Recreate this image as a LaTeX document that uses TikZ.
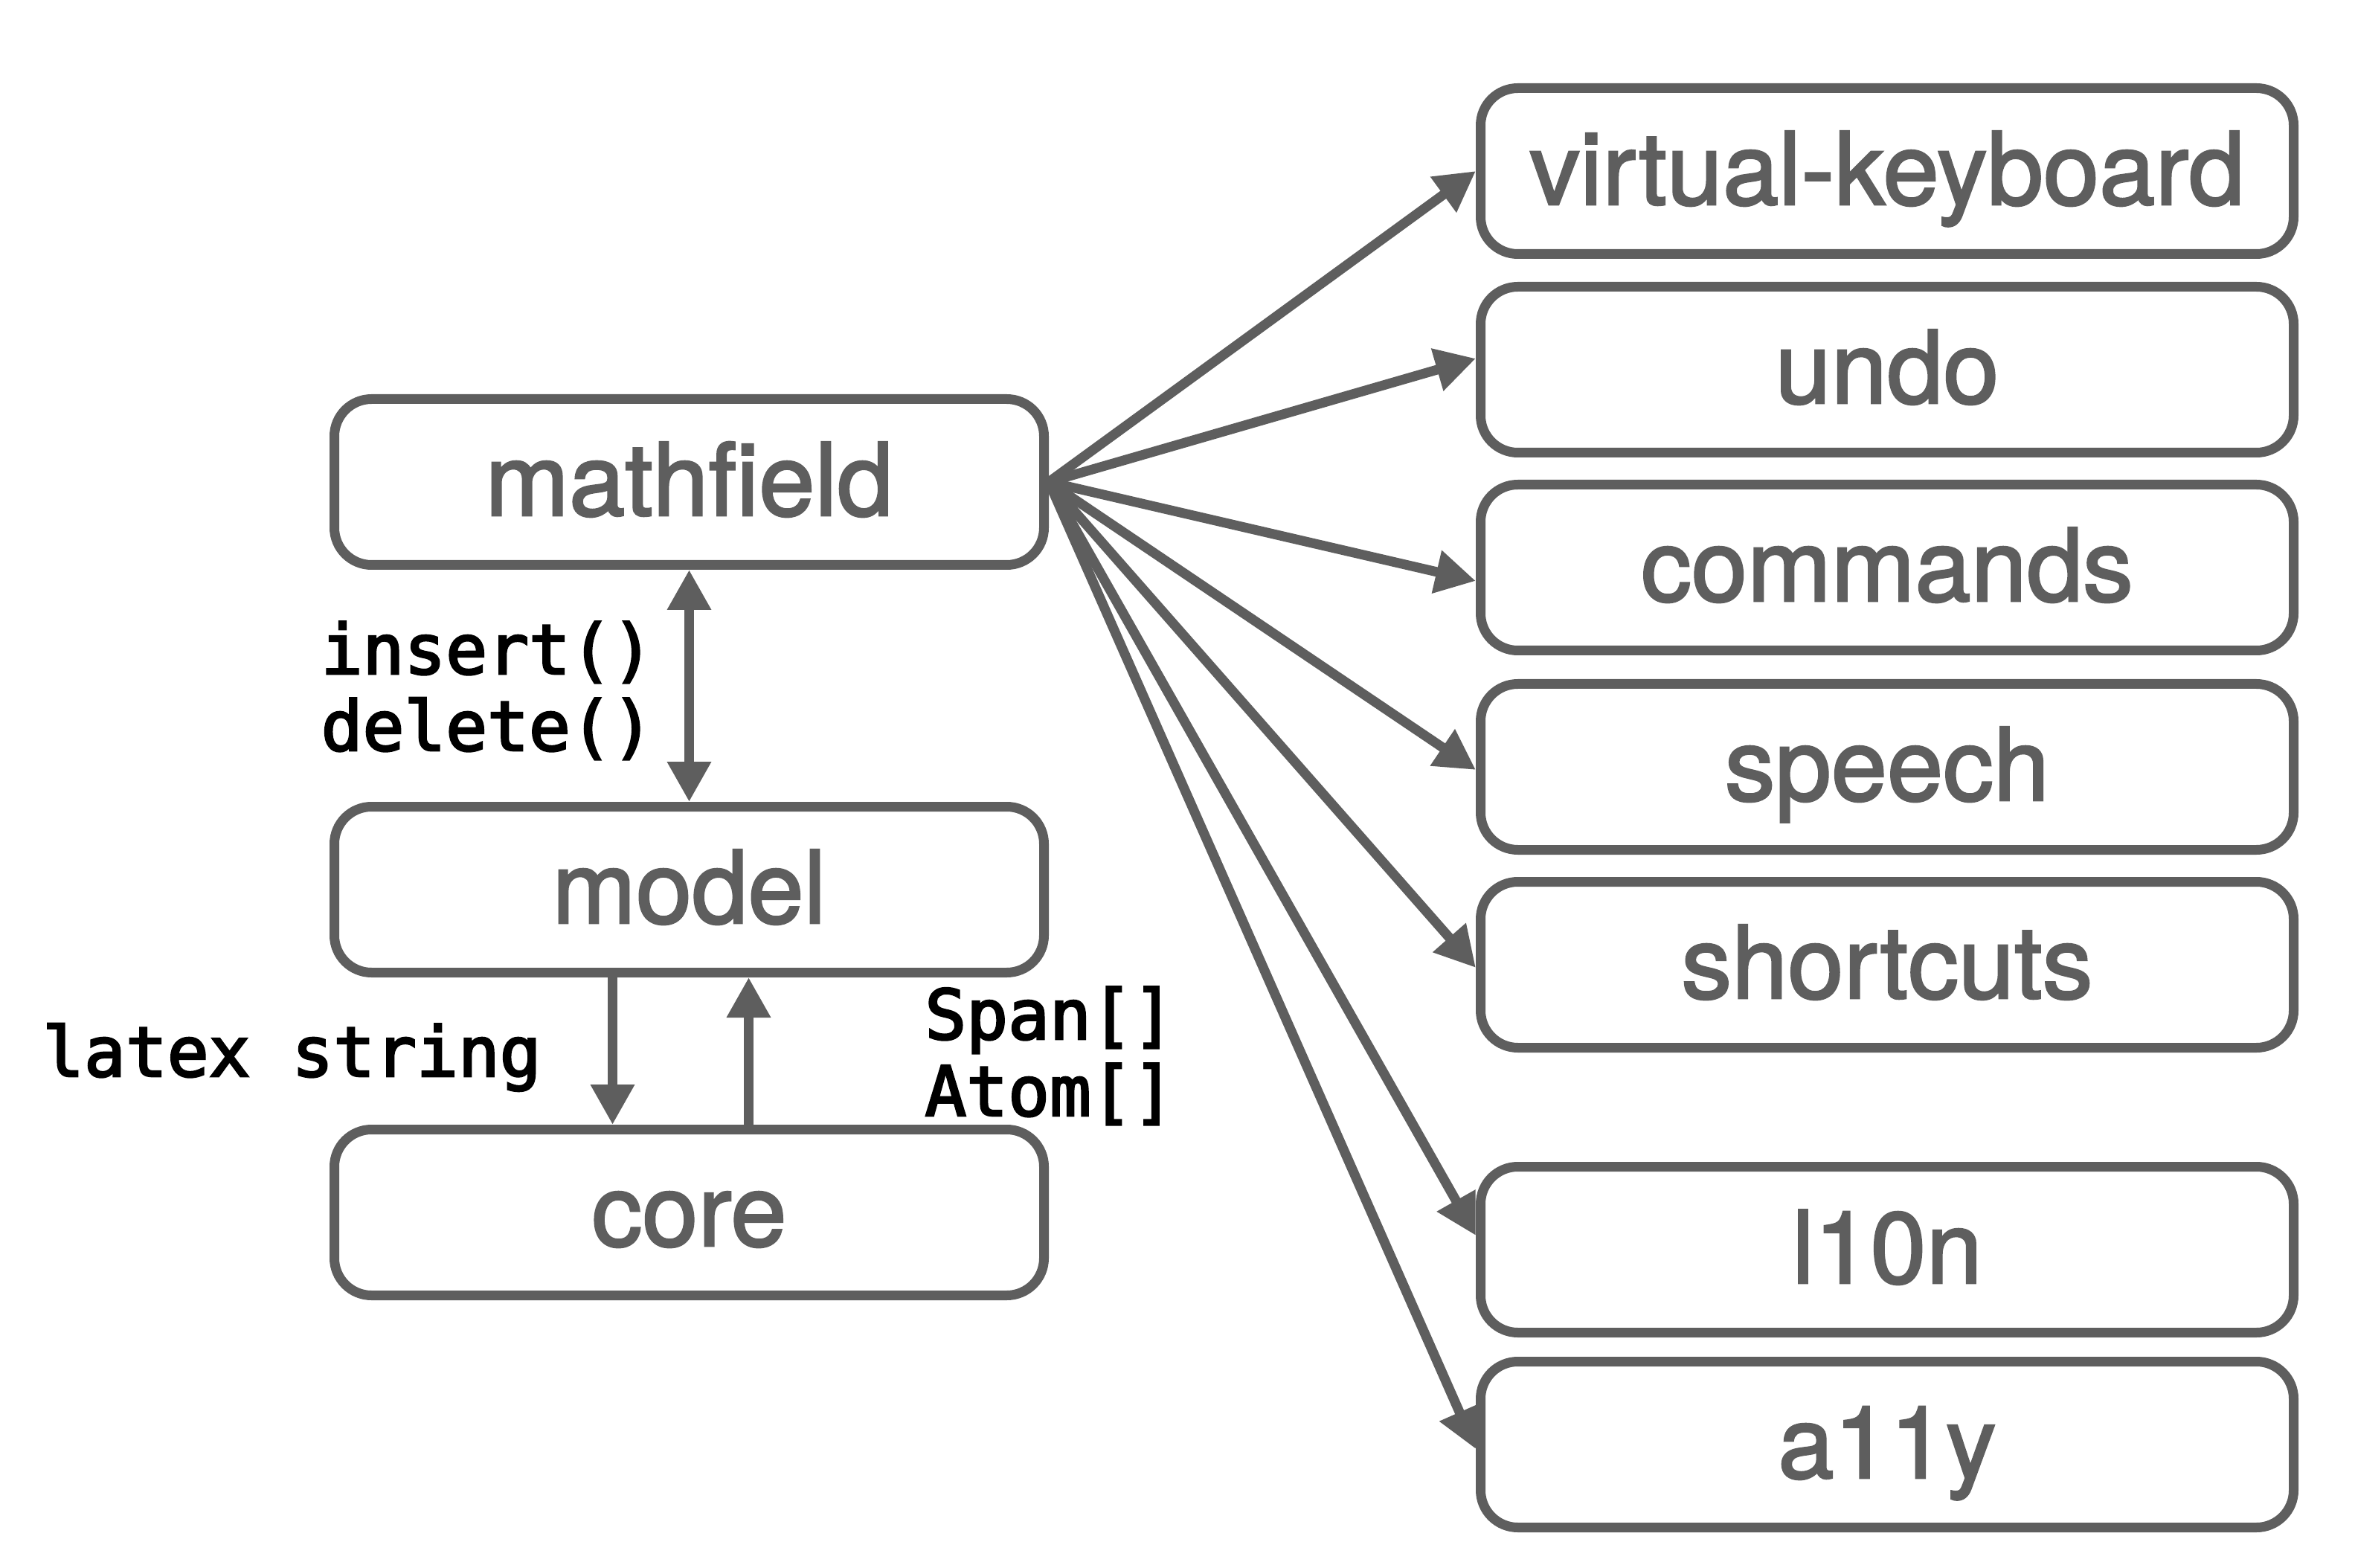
\documentclass[tikz,border=0pt]{standalone}
\usepackage{fontspec}
\setmainfont{TeX Gyre Heros}[FakeBold=2]
\newfontfamily\codefont{DejaVu Sans Mono}[FakeBold=3]
\usetikzlibrary{positioning, arrows.meta, calc}
\definecolor{modgray}{RGB}{94,94,94}

\begin{document}
\begin{tikzpicture}[>={Triangle[length=5.4mm, width=5.6mm]},
  module/.style={draw=modgray, text=modgray, line width=1.3mm, rounded corners=5mm,
                 inner sep=0pt, minimum height=22.3mm, text height=12mm, text depth=3mm,
                 font=\fontsize{38.5}{44}\selectfont},
  link/.style={->, draw=modgray, fill=modgray, line width=1.3mm},
  call/.style={font=\codefont\fontsize{26.4}{29.3}\selectfont}]
  \useasboundingbox (0,0) rectangle (31.66,-21.08);
  \node[module, minimum width=95.4mm] (mathfield) at (9.265,-6.48) {mathfield};
  \node[module, minimum width=95.4mm] (model) at (9.265,-11.96) {model};
  \node[module, minimum width=95.4mm] (core) at (9.265,-16.30) {core};
  \foreach \name/\txt/\y in {vkeyboard/virtual-keyboard/2.30, undo/undo/4.97,
      commands/commands/7.63, speech/speech/10.31, shortcuts/shortcuts/12.97,
      l10n/l10n/16.80, a11y/a11y/19.42}{
    \node[module, minimum width=109.3mm] (\name) at (25.37,-\y) {\txt};
  }
  \foreach \name/\dy in {vkeyboard/0, undo/0.15, commands/-0.18, speech/-0.04,
      shortcuts/-0.04, l10n/0.19, a11y/-0.06}{
    \draw[link] (mathfield.east) -- ([yshift=\dy cm]\name.west);
  }
  \draw[link, <->] (mathfield.south) -- (model.north);
  \draw[link] ([xshift=-10.3mm]model.south) -- ([xshift=-10.3mm]core.north);
  \draw[link] ([xshift=8mm]core.north) -- ([xshift=8mm]model.south);
  \node[call, align=right, anchor=base east] (calls) at (8.91,-10.09) {insert()\\delete()};
  \node[call, anchor=base east] (latex) at (7.40,-14.47) {latex string};
  \node[call, align=left, anchor=base west] (atoms) at (12.31,-15.00) {Span[]\\Atom[]};
\end{tikzpicture}
\end{document}
